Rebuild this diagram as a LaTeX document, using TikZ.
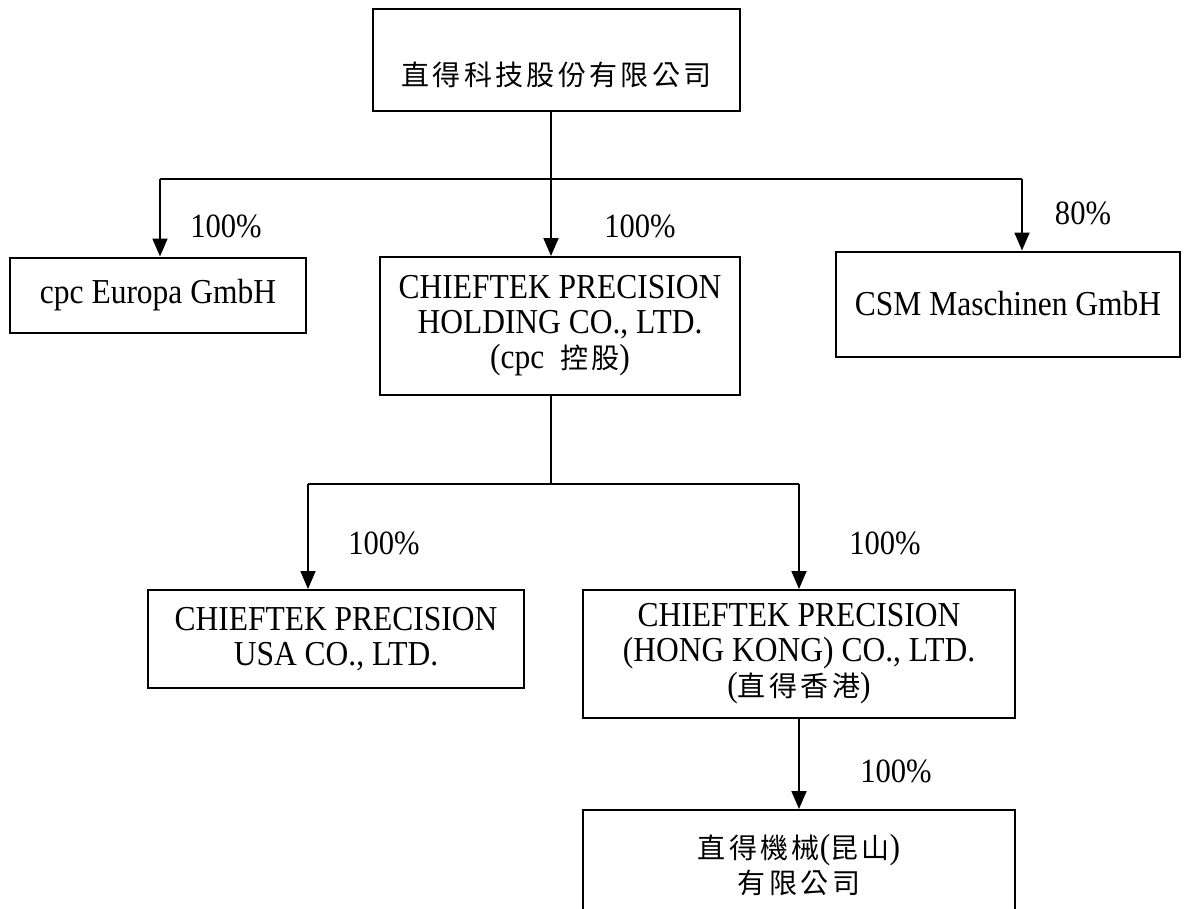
\documentclass[tikz,border=0pt]{standalone}
\usepackage{fontspec}
\setmainfont[FakeStretch=0.9]{Liberation Serif}
\newfontfamily\cjk[Scale=0.8,LetterSpace=12]{Noto Sans CJK TC}
\usetikzlibrary{arrows.meta}
\begin{document}
\begin{tikzpicture}[x=1pt,y=-1pt,
  box/.style={draw,line width=2pt,align=center,inner sep=0pt,
    font=\fontsize{35}{35}\selectfont},
  conn/.style={line width=1.8pt},
  arr/.style={line width=1.8pt,-{Triangle[length=18pt,width=15pt]}},
  pct/.style={font=\fontsize{34}{35}\selectfont,inner sep=0pt}]
\useasboundingbox (0,0) rectangle (1196,908);
\fill[white] (0,0) rectangle (1196,908);
% boxes
\node[box,minimum width=367,minimum height=102,text height=50pt,text depth=0pt]
  (top) at (556.5,60) {\cjk 直得科技股份有限公司};
\node[box,minimum width=296,minimum height=75] (cpc) at (158,295) {cpc Europa GmbH};
\node[box,minimum width=360,minimum height=138] (hold) at (560,326)
  {CHIEFTEK PRECISION\\HOLDING CO., LTD.\\(cpc\ \ {\cjk 控股})};
\node[box,minimum width=344,minimum height=105] (csm) at (1008,304) {CSM Maschinen GmbH};
\node[box,minimum width=376,minimum height=98] (usa) at (336,639)
  {CHIEFTEK PRECISION\\USA CO., LTD.};
\node[box,minimum width=432,minimum height=128] (hk) at (799,654)
  {CHIEFTEK PRECISION\\(HONG KONG) CO., LTD.\\({\cjk 直得香港})};
\node[box,minimum width=432,minimum height=110] (ks) at (799,865)
  {{\cjk 直得機械}({\cjk 昆山})\\{\cjk 有限公司}};
% junctions
\coordinate (j1) at (551,179);
\coordinate (l1) at (160,179);
\coordinate (r1) at (1022,179);
\coordinate (j2) at (551,484);
\coordinate (l2) at (308,484);
\coordinate (r2) at (799,484);
% connectors
\draw[conn] (top.south -| j1) -- (j1);
\draw[conn] (l1) -- (r1);
\draw[arr] (l1) -- (l1 |- cpc.north);
\draw[arr] (j1) -- (j1 |- hold.north);
\draw[arr] (r1) -- (r1 |- csm.north);
\draw[conn] (hold.south -| j2) -- (j2);
\draw[conn] (l2) -- (r2);
\draw[arr] (l2) -- (l2 |- usa.north);
\draw[arr] (r2) -- (r2 |- hk.north);
\draw[arr] (hk.south) -- (ks.north);
% labels
\node[pct] (p1) at (226,226) {100\%};
\node[pct] (p2) at (640,226) {100\%};
\node[pct] (p3) at (1083,213) {80\%};
\node[pct] (p4) at (384,543) {100\%};
\node[pct] (p5) at (885,543) {100\%};
\node[pct] (p6) at (896,771) {100\%};
\end{tikzpicture}
\end{document}
